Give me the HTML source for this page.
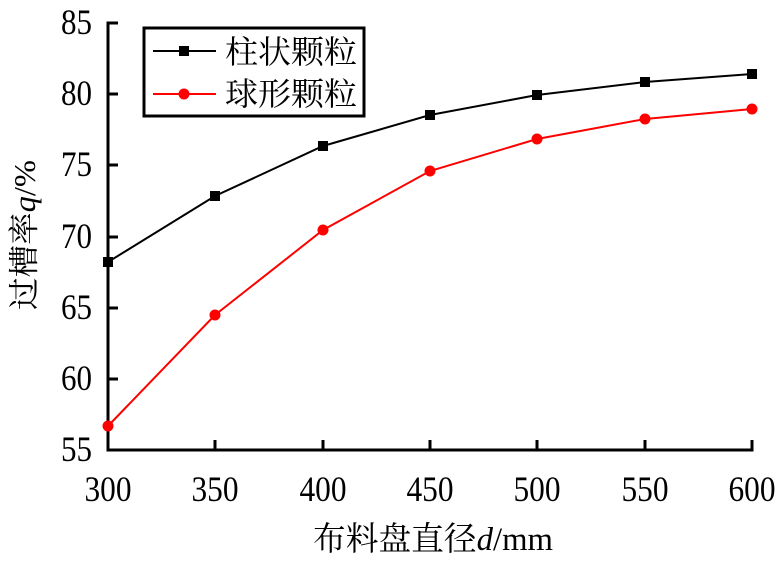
<!DOCTYPE html><html><head><meta charset="utf-8"><style>body{margin:0;background:#fff}</style></head><body>
<svg width="782" height="567" xmlns="http://www.w3.org/2000/svg" font-family="Liberation Serif, Noto Serif CJK SC, serif">
<g stroke="#000" stroke-width="3" fill="none">
<polyline points="118,23 108,23 108,450 752,450 752,440"/>
<path d="M108,94h10M108,165h10M108,237h10M108,308h10M108,379h10M215,450v-10M323,450v-10M430,450v-10M537,450v-10M645,450v-10"/>
</g>
<g font-size="36" text-anchor="end" lengthAdjust="spacingAndGlyphs">
<text x="92" y="34" textLength="31" lengthAdjust="spacingAndGlyphs">85</text>
<text x="92" y="105" textLength="31" lengthAdjust="spacingAndGlyphs">80</text>
<text x="92" y="176" textLength="31" lengthAdjust="spacingAndGlyphs">75</text>
<text x="92" y="248" textLength="31" lengthAdjust="spacingAndGlyphs">70</text>
<text x="92" y="319" textLength="31" lengthAdjust="spacingAndGlyphs">65</text>
<text x="92" y="390" textLength="31" lengthAdjust="spacingAndGlyphs">60</text>
<text x="92" y="461" textLength="31" lengthAdjust="spacingAndGlyphs">55</text>
</g>
<g font-size="36" text-anchor="middle">
<text x="108" y="501" textLength="47" lengthAdjust="spacingAndGlyphs">300</text>
<text x="215" y="501" textLength="47" lengthAdjust="spacingAndGlyphs">350</text>
<text x="323" y="501" textLength="47" lengthAdjust="spacingAndGlyphs">400</text>
<text x="430" y="501" textLength="47" lengthAdjust="spacingAndGlyphs">450</text>
<text x="537" y="501" textLength="47" lengthAdjust="spacingAndGlyphs">500</text>
<text x="645" y="501" textLength="47" lengthAdjust="spacingAndGlyphs">550</text>
<text x="752" y="501" textLength="47" lengthAdjust="spacingAndGlyphs">600</text>
<text x="433" y="550" font-size="33" textLength="240" lengthAdjust="spacingAndGlyphs">布料盘直径<tspan font-style="italic">d</tspan>/mm</text>
<text transform="translate(35,235) rotate(-90)" font-size="31" textLength="150" lengthAdjust="spacingAndGlyphs">过槽率<tspan font-style="italic">q</tspan>/%</text>
</g>
<polyline fill="none" stroke="#000" stroke-width="2" points="108,262 215,196 323,146 430,115 537,95 645,82 752,74"/>
<g fill="#000"><rect x="103" y="257" width="10" height="10"/><rect x="210" y="191" width="10" height="10"/><rect x="318" y="141" width="10" height="10"/><rect x="425" y="110" width="10" height="10"/><rect x="532" y="90" width="10" height="10"/><rect x="640" y="77" width="10" height="10"/><rect x="747" y="69" width="10" height="10"/></g>
<polyline fill="none" stroke="#f00" stroke-width="2" points="108,426 215,315 323,230 430,171 537,139 645,119 752,109"/>
<g fill="#f00"><circle cx="108" cy="426" r="5.5"/><circle cx="215" cy="315" r="5.5"/><circle cx="323" cy="230" r="5.5"/><circle cx="430" cy="171" r="5.5"/><circle cx="537" cy="139" r="5.5"/><circle cx="645" cy="119" r="5.5"/><circle cx="752" cy="109" r="5.5"/></g>
<rect x="144" y="28" width="220" height="88" fill="#fff" stroke="#000" stroke-width="3"/>
<line x1="153" y1="51" x2="216" y2="51" stroke="#000" stroke-width="2"/><rect x="179" y="46" width="10" height="10"/>
<line x1="153" y1="94" x2="216" y2="94" stroke="#f00" stroke-width="2"/><circle cx="184" cy="94" r="5.5" fill="#f00"/>
<text x="225" y="63" font-size="32" textLength="132" lengthAdjust="spacingAndGlyphs">柱状颗粒</text>
<text x="225" y="105" font-size="32" textLength="132" lengthAdjust="spacingAndGlyphs">球形颗粒</text>
</svg></body></html>
